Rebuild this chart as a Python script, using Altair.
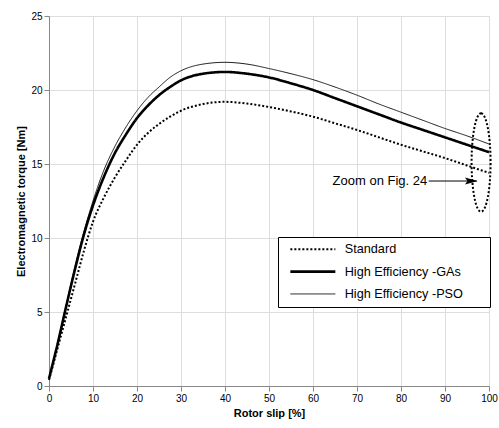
import altair as alt
import pandas as pd

# ---- data ----
slip = [0, 2, 4, 6, 8, 10, 12.5, 15, 17.5, 20, 22.5, 25, 27.5, 30, 35, 40, 45,
        50, 55, 60, 65, 70, 75, 80, 85, 90, 95, 100]
standard = [0.4, 2.6, 4.8, 7.0, 9.2, 11.1, 12.75, 14.1, 15.25, 16.3, 17.1, 17.7,
            18.2, 18.6, 19.05, 19.2, 19.08, 18.85, 18.55, 18.2, 17.75, 17.3,
            16.8, 16.3, 15.85, 15.4, 14.9, 14.4]
ga = [0.5, 2.9, 5.5, 8.0, 10.3, 12.2, 14.15, 15.75, 17.0, 18.1, 18.95, 19.65,
      20.2, 20.65, 21.1, 21.22, 21.1, 20.85, 20.45, 20.0, 19.45, 18.9, 18.35,
      17.8, 17.3, 16.8, 16.3, 15.8]
pso = [0.5, 3.0, 5.6, 8.2, 10.5, 12.5, 14.6, 16.2, 17.5, 18.6, 19.5, 20.2,
       20.85, 21.3, 21.75, 21.87, 21.75, 21.45, 21.1, 20.7, 20.2, 19.65, 19.05,
       18.5, 17.95, 17.4, 16.9, 16.35]
series_names = ["Standard", "High Efficiency -GAs", "High Efficiency -PSO"]

x_ticks = [0, 10, 20, 30, 40, 50, 60, 70, 80, 90, 100]
y_ticks = [0, 5, 10, 15, 20, 25]

# annotation anchors (data units)
note_text = ["Zoom on Fig. 24"]
note_x = [86.2]
note_y = [13.85]
arrow_x = [86.3, 97.2]
arrow_y = [13.85, 13.85]
head_x = [96.0]
ellipse_x = [98.2]
ellipse_y = [15.1]

FONT = "Liberation Sans"

rows = []
for name, vals in zip(series_names, [standard, ga, pso]):
    for s, t in zip(slip, vals):
        rows.append({"slip": s, "torque": t, "series": name})
df = pd.DataFrame(rows)

xscale = alt.Scale(domain=[0, 100], nice=False, zero=False)
yscale = alt.Scale(domain=[0, 25], nice=False, zero=False)

legend = alt.Legend(
    title=None, orient="none", legendX=229, legendY=221,
    symbolType="M 0 0 L 15 0", symbolSize=36, symbolStrokeColor="black",
    symbolFillColor="transparent",
    labelFont=FONT, labelFontSize=12.7, labelColor="black",
    labelOffset=48, padding=6, rowPadding=8.3,
    strokeColor="black", fillColor="white", cornerRadius=0,
    labelExpr="datum.label + '\u00a0\u00a0\u00a0\u2800'",
)

lines = alt.Chart(df).mark_line(color="black", interpolate="monotone").encode(
    x=alt.X("slip:Q", scale=xscale,
            axis=alt.Axis(values=x_ticks, title="Rotor slip [%]", labelFlush=False)),
    y=alt.Y("torque:Q", scale=yscale,
            axis=alt.Axis(values=y_ticks, title="Electromagnetic torque [Nm]")),
    strokeDash=alt.StrokeDash("series:N", scale=alt.Scale(domain=series_names,
                              range=[[2, 2], [1, 0], [1, 0]]), legend=legend),
    strokeWidth=alt.StrokeWidth("series:N", scale=alt.Scale(type="ordinal", domain=series_names,
                                range=[2.0, 2.6, 0.9]), legend=legend),
    detail="series:N",
)

note = alt.Chart(pd.DataFrame({"x": note_x, "y": note_y, "t": note_text})).mark_text(
    align="right", baseline="middle", font=FONT, fontSize=13, color="black", dx=-1
).encode(x=alt.X("x:Q", scale=xscale), y=alt.Y("y:Q", scale=yscale), text="t:N")

arrow = alt.Chart(pd.DataFrame({"x": arrow_x, "y": arrow_y})).mark_line(
    color="black", strokeWidth=1
).encode(x=alt.X("x:Q", scale=xscale), y=alt.Y("y:Q", scale=yscale))

head = alt.Chart(pd.DataFrame({"x": head_x, "y": note_y})).mark_point(
    shape="M -1 -0.55 L 1 0 L -1 0.55 L -0.6 0 Z", filled=True, size=169,
    color="black", opacity=1
).encode(x=alt.X("x:Q", scale=xscale), y=alt.Y("y:Q", scale=yscale))

ellipse = alt.Chart(pd.DataFrame({"x": ellipse_x, "y": ellipse_y})).mark_point(
    shape="M 0 -1 A 0.193 1 0 1 1 0 1 A 0.193 1 0 1 1 0 -1 Z", filled=False,
    size=9683, color="black", strokeWidth=2, strokeDash=[2, 2], opacity=1
).encode(x=alt.X("x:Q", scale=xscale), y=alt.Y("y:Q", scale=yscale))

chart = alt.layer(lines, arrow, head, note, ellipse).properties(
    width=440, height=370,
    autosize=alt.AutoSizeParams(type="none"),
    padding={"left": 49, "top": 16, "right": 10, "bottom": 42},
).configure_view(
    stroke="black", strokeWidth=1
).configure_axis(
    domainColor="black", domainWidth=1, ticks=False,
    gridColor="#9c9c9c", gridWidth=1, gridOpacity=1,
    labelFont=FONT, labelFontSize=12, labelColor="black", labelPadding=4,
    titleFont=FONT, titleFontSize=13, titleFontWeight="bold", titleColor="black",
    titlePadding=7,
).configure(background="white")

chart.save("out.html", embed_options={"renderer": "svg", "actions": False})
